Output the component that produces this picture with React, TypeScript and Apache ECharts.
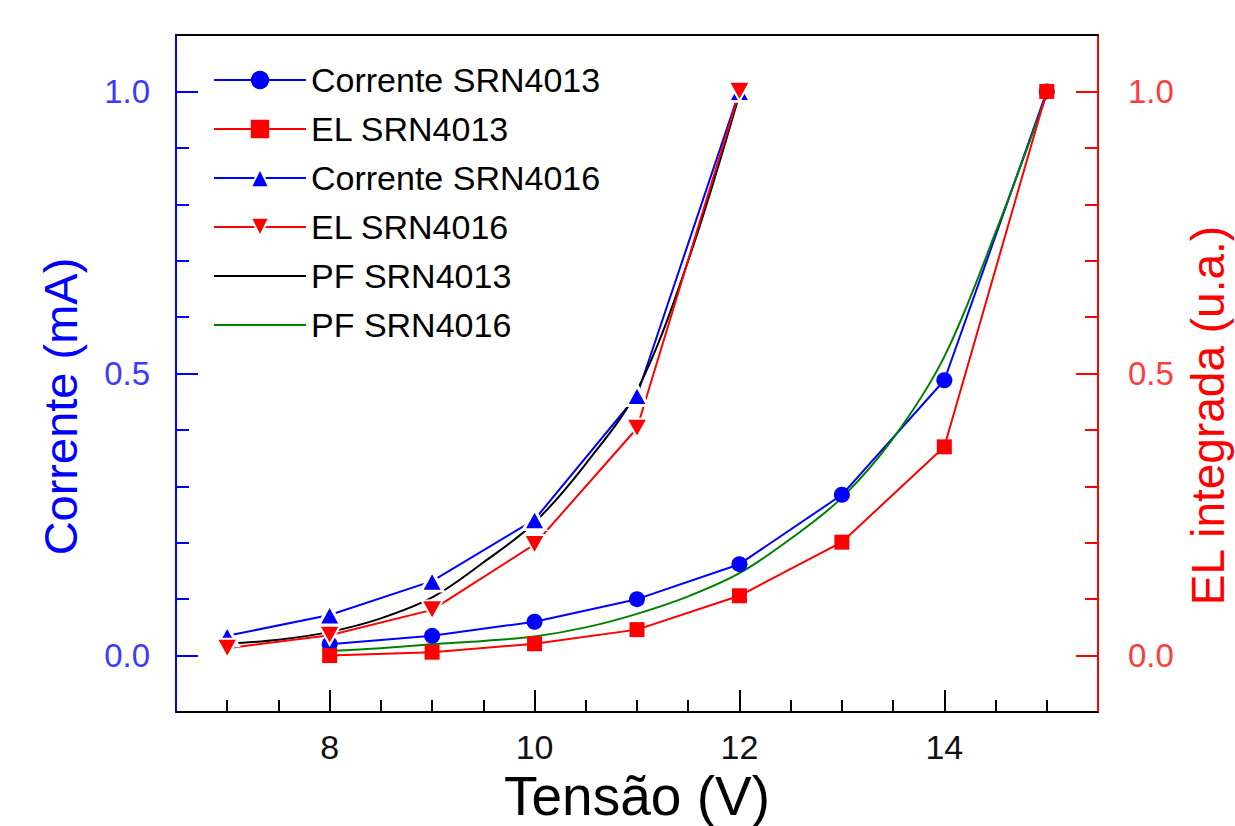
import React, { useEffect, useRef } from "react";
import * as echarts from "echarts";

// ---- Data ----
const voltA = [8, 9, 10, 11, 12, 13, 14, 15];
const correnteSRN4013 = [0.02, 0.035, 0.06, 0.1, 0.162, 0.285, 0.488, 1.0];
const elSRN4013 = [0.0, 0.006, 0.021, 0.046, 0.106, 0.201, 0.37, 1.0];

const voltB = [7, 8, 9, 10, 11, 12];
const correnteSRN4016 = [0.035, 0.072, 0.132, 0.241, 0.461, 1.0];
const elSRN4016 = [0.013, 0.036, 0.081, 0.197, 0.403, 1.0];

const pfVoltBlack = [7, 7.5, 8, 8.5, 9, 9.5, 10, 10.5, 11, 11.5, 12];
const pfSRN4013 = [0.021, 0.028, 0.042, 0.066, 0.103, 0.165, 0.236, 0.34, 0.47, 0.7, 0.995];

const pfVoltGreen = [8, 8.5, 9, 9.5, 10, 10.5, 11, 11.5, 12, 12.5, 13, 13.5, 14, 14.5, 15];
const pfSRN4016 = [0.008, 0.013, 0.02, 0.026, 0.034, 0.05, 0.074, 0.105, 0.146, 0.207, 0.28, 0.385, 0.53, 0.75, 0.995];

const xMajorTicks = [8, 10, 12, 14];
const xMinorTicks = [7, 7.5, 8.5, 9, 9.5, 10.5, 11, 11.5, 12.5, 13, 13.5, 14.5, 15];
const yMajorTicks = [0, 0.5, 1.0];
const yMinorTicks = [0.1, 0.2, 0.3, 0.4, 0.6, 0.7, 0.8, 0.9];

const legendNames = [
  "Corrente SRN4013",
  "EL SRN4013",
  "Corrente SRN4016",
  "EL SRN4016",
  "PF SRN4013",
  "PF SRN4016",
];
const fitNames = ["PF SRN4013", "PF SRN4016"];
const triangleNames = ["Corrente SRN4016", "EL SRN4016"];

const FONT = "'Liberation Sans', Arial, sans-serif";
const BLUE = "#0000ff";
const RED = "#ff0000";
const GREEN = "#008000";
const X_MIN = 6.5;
const X_MAX = 15.5;
const Y_MIN = -0.1;
const Y_MAX = 1.1;

const zip = (xs: number[], ys: number[]) => xs.map((x, i) => [x, ys[i]]);

const DOWN_TRI = "path://M0,0 L10,0 L5,8.66 Z";

export default function App() {
  const ref = useRef<HTMLDivElement>(null);

  useEffect(() => {
    document.body.style.margin = "0";
    if (!ref.current) return;
    const chart = echarts.init(ref.current, null, { renderer: "svg" });

    const gridPos = { left: 176, right: 137, top: 35, bottom: 114, containLabel: false, outerBoundsMode: "none" };

    const option: any = {
      animation: false,
      backgroundColor: "#ffffff",
      textStyle: { fontFamily: FONT },
      grid: [{ ...gridPos }, { ...gridPos }],
      legend: {
        data: legendNames.map((n) => {
          if (fitNames.includes(n)) return { name: n, itemStyle: { opacity: 0 } };
          if (triangleNames.includes(n)) return { name: n, itemStyle: { borderWidth: 2 } };
          return { name: n };
        }),
        orient: "vertical",
        left: 213,
        top: 60,
        padding: 0,
        itemWidth: 92,
        itemHeight: 23,
        itemGap: 9,
        textStyle: { fontFamily: FONT, fontSize: 34, color: "#000", lineHeight: 40 },
      },
      xAxis: [
        {
          gridIndex: 0,
          type: "value",
          min: X_MIN,
          max: X_MAX,
          position: "bottom",
          axisLine: { show: true, onZero: false, lineStyle: { color: "#000", width: 2 } },
          axisTick: { show: true, inside: true, length: 22, customValues: xMajorTicks, lineStyle: { color: "#000", width: 2 } },
          axisLabel: { show: true, customValues: xMajorTicks, margin: 18, fontFamily: FONT, fontSize: 34, color: "#111" },
          splitLine: { show: false },
          name: "Tensão (V)",
          nameLocation: "middle",
          nameGap: 38,
          nameTextStyle: { fontFamily: FONT, fontSize: 55, color: "#000" },
        },
        {
          gridIndex: 0,
          type: "value",
          min: X_MIN,
          max: X_MAX,
          position: "top",
          axisLine: { show: true, onZero: false, lineStyle: { color: "#000", width: 2 } },
          axisTick: { show: false },
          axisLabel: { show: false },
          splitLine: { show: false },
        },
        {
          gridIndex: 1,
          type: "value",
          min: X_MIN,
          max: X_MAX,
          position: "bottom",
          axisLine: { show: false, onZero: false },
          axisTick: { show: true, inside: true, length: 12, customValues: xMinorTicks, lineStyle: { color: "#000", width: 2 } },
          axisLabel: { show: false },
          splitLine: { show: false },
        },
      ],
      yAxis: [
        {
          gridIndex: 0,
          type: "value",
          min: Y_MIN,
          max: Y_MAX,
          position: "left",
          axisLine: { show: true, onZero: false, lineStyle: { color: BLUE, width: 2 } },
          axisTick: { show: true, inside: true, length: 22, customValues: yMajorTicks, lineStyle: { color: BLUE, width: 2 } },
          axisLabel: {
            show: true,
            customValues: yMajorTicks,
            formatter: (v: number) => v.toFixed(1),
            margin: 26,
            fontFamily: FONT,
            fontSize: 33,
            color: "#3b3bff",
          },
          splitLine: { show: false },
          name: "Corrente (mA)",
          nameLocation: "middle",
          nameRotate: 90,
          nameGap: 92,
          nameTextStyle: { fontFamily: FONT, fontSize: 47, color: BLUE, padding: [0, 66, 0, 0] },
        },
        {
          gridIndex: 0,
          type: "value",
          min: Y_MIN,
          max: Y_MAX,
          position: "right",
          axisLine: { show: true, onZero: false, lineStyle: { color: RED, width: 2 } },
          axisTick: { show: true, inside: true, length: 22, customValues: yMajorTicks, lineStyle: { color: RED, width: 2 } },
          axisLabel: {
            show: true,
            customValues: yMajorTicks,
            formatter: (v: number) => v.toFixed(1),
            margin: 30,
            fontFamily: FONT,
            fontSize: 33,
            color: "#ff3b3b",
          },
          splitLine: { show: false },
          name: "EL integrada (u.a.)",
          nameLocation: "middle",
          nameRotate: 90,
          nameGap: 82,
          nameTextStyle: { fontFamily: FONT, fontSize: 46, color: RED, padding: [0, 84, 0, 0] },
        },
        {
          gridIndex: 1,
          type: "value",
          min: Y_MIN,
          max: Y_MAX,
          position: "left",
          axisLine: { show: false, onZero: false },
          axisTick: { show: true, inside: true, length: 13, customValues: yMinorTicks, lineStyle: { color: BLUE, width: 2 } },
          axisLabel: { show: false },
          splitLine: { show: false },
        },
        {
          gridIndex: 1,
          type: "value",
          min: Y_MIN,
          max: Y_MAX,
          position: "right",
          axisLine: { show: false, onZero: false },
          axisTick: { show: true, inside: true, length: 13, customValues: yMinorTicks, lineStyle: { color: RED, width: 2 } },
          axisLabel: { show: false },
          splitLine: { show: false },
        },
      ],
      series: [
        {
          name: "Corrente SRN4013",
          type: "line",
          xAxisIndex: 0,
          yAxisIndex: 0,
          data: zip(voltA, correnteSRN4013),
          symbol: "circle",
          symbolSize: 16,
          lineStyle: { color: BLUE, width: 2 },
          itemStyle: { color: BLUE },
        },
        {
          name: "Corrente SRN4016",
          type: "line",
          xAxisIndex: 0,
          yAxisIndex: 0,
          data: zip(voltB, correnteSRN4016),
          symbol: "triangle",
          symbolSize: [22, 20],
          lineStyle: { color: BLUE, width: 2 },
          itemStyle: { color: BLUE, borderColor: "#ffffff", borderWidth: 3 },
        },
        {
          name: "PF SRN4013",
          type: "line",
          xAxisIndex: 0,
          yAxisIndex: 0,
          data: zip(pfVoltBlack, pfSRN4013),
          symbol: "none",
          smooth: 0.35,
          lineStyle: { color: "#000", width: 2 },
          itemStyle: { color: "#000" },
        },
        {
          name: "PF SRN4016",
          type: "line",
          xAxisIndex: 0,
          yAxisIndex: 0,
          data: zip(pfVoltGreen, pfSRN4016),
          symbol: "none",
          smooth: 0.35,
          lineStyle: { color: GREEN, width: 2 },
          itemStyle: { color: GREEN },
        },
        {
          name: "EL SRN4013",
          type: "line",
          xAxisIndex: 0,
          yAxisIndex: 1,
          data: zip(voltA, elSRN4013),
          symbol: "rect",
          symbolSize: 15,
          lineStyle: { color: RED, width: 2 },
          itemStyle: { color: RED },
        },
        {
          name: "EL SRN4016",
          type: "line",
          xAxisIndex: 0,
          yAxisIndex: 1,
          data: zip(voltB, elSRN4016),
          symbol: DOWN_TRI,
          symbolSize: [21, 19],
          lineStyle: { color: RED, width: 2 },
          itemStyle: { color: RED, borderColor: "#ffffff", borderWidth: 2 },
        },
      ],
    };

    chart.setOption(option);
    return () => chart.dispose();
  }, []);

  return <div ref={ref} style={{ width: 1235, height: 826 }} />;
}
